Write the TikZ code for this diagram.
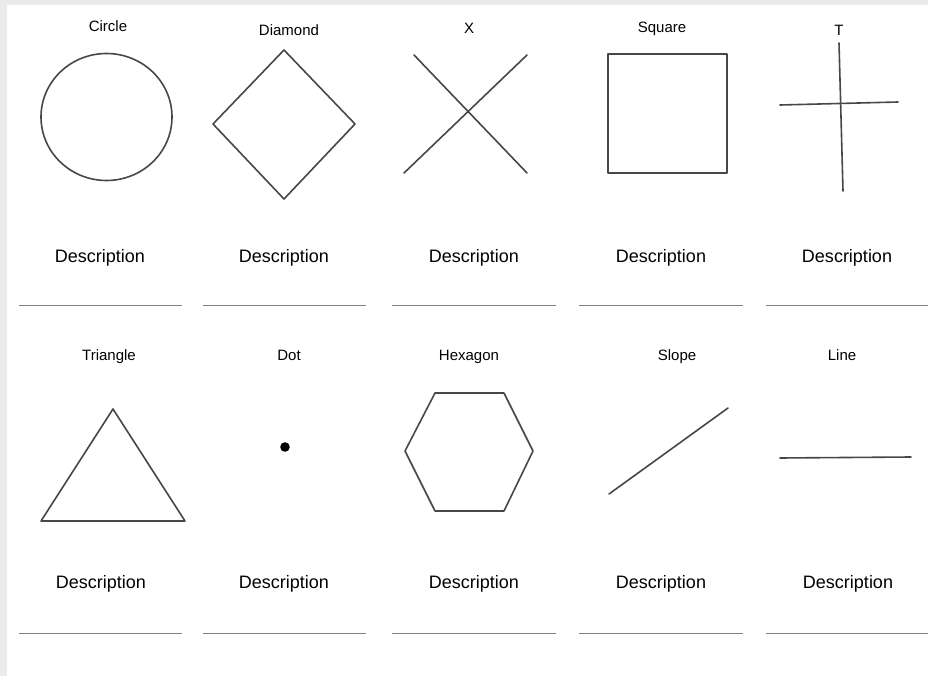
\documentclass[tikz,border=0pt]{standalone}
\usepackage{fontspec}
\setmainfont{Liberation Sans}
\usetikzlibrary{positioning}

\tikzset{
  shapeline/.style={line width=1.6pt, draw=black!72, line join=round, line cap=round},
  caption/.style={font=\fontsize{15}{17}\selectfont, inner sep=0pt, anchor=base},
  desc/.style={font=\fontsize{18}{20}\selectfont, inner sep=0pt, anchor=base},
  blank/.style={draw=black!50, line width=1pt},
}

\begin{document}
\begin{tikzpicture}[x=1pt,y=-1pt]
        \useasboundingbox (0,0) rectangle (928,676);

        % Page
        \fill[black!8] (0,0) rectangle (928,676);
        \fill[white] (7,5) rectangle (928,676);

        % Row 1 titles
        \node[caption] (circlename) at (108,32) {Circle};
        \node[caption] (diamondname) at (289,36) {Diamond};
        \node[caption] (xname) at (469,34) {X};
        \node[caption] (squarename) at (662,33) {Square};
        \node[caption] (tname) at (839,36) {T};

        % Row 1 shapes
        \draw[shapeline] (106.5,117) ellipse [x radius=65.5, y radius=63.5];
        \draw[shapeline] (213,124) -- (284,50) -- (355,124) -- (284,199) -- cycle;
        \draw[shapeline] (414,55) -- (527,173);
        \draw[shapeline] (404,173) -- (527,55);
        \draw[shapeline] (608,54) rectangle (727,173);
        \draw[shapeline] (839,43) -- (843,191);
        \draw[shapeline] (780,105) -- (898,102);

        % Row 1 descriptions
        \node[desc] (desca) at (100,262) {Description};
        \node[desc] (descb) at (284,262) {Description};
        \node[desc] (descc) at (474,262) {Description};
        \node[desc] (descd) at (661,262) {Description};
        \node[desc] (desce) at (847,262) {Description};

        % Row 1 blanks
        \draw[blank] (19,305) -- (182,305);
        \draw[blank] (203,305) -- (366,305);
        \draw[blank] (392,305) -- (556,305);
        \draw[blank] (579,305) -- (743,305);
        \draw[blank] (766,305) -- (928,305);

        % Row 2 titles
        \node[caption] (trianglename) at (109,360) {Triangle};
        \node[caption] (dotname) at (289,360) {Dot};
        \node[caption] (hexagonname) at (469,360) {Hexagon};
        \node[caption] (slopename) at (677,360) {Slope};
        \node[caption] (linename) at (842,360) {Line};

        % Row 2 shapes
        \draw[shapeline] (113,409) -- (185,521) -- (41,521) -- cycle;
        \fill[black] (285,447) circle [radius=4.8];
        \draw[shapeline] (435,393) -- (504,393) -- (533,451) -- (504,511) -- (435,511) -- (405,451) -- cycle;
        \draw[shapeline] (609,494) -- (728,408);
        \draw[shapeline] (780,458) -- (911,457);

        % Row 2 descriptions
        \node[desc] (descf) at (101,588) {Description};
        \node[desc] (descg) at (284,588) {Description};
        \node[desc] (desch) at (474,588) {Description};
        \node[desc] (desci) at (661,588) {Description};
        \node[desc] (descj) at (848,588) {Description};

        % Row 2 blanks
        \draw[blank] (19,633) -- (182,633);
        \draw[blank] (203,633) -- (366,633);
        \draw[blank] (392,633) -- (556,633);
        \draw[blank] (579,633) -- (743,633);
        \draw[blank] (766,633) -- (928,633);

\end{tikzpicture}
\end{document}
